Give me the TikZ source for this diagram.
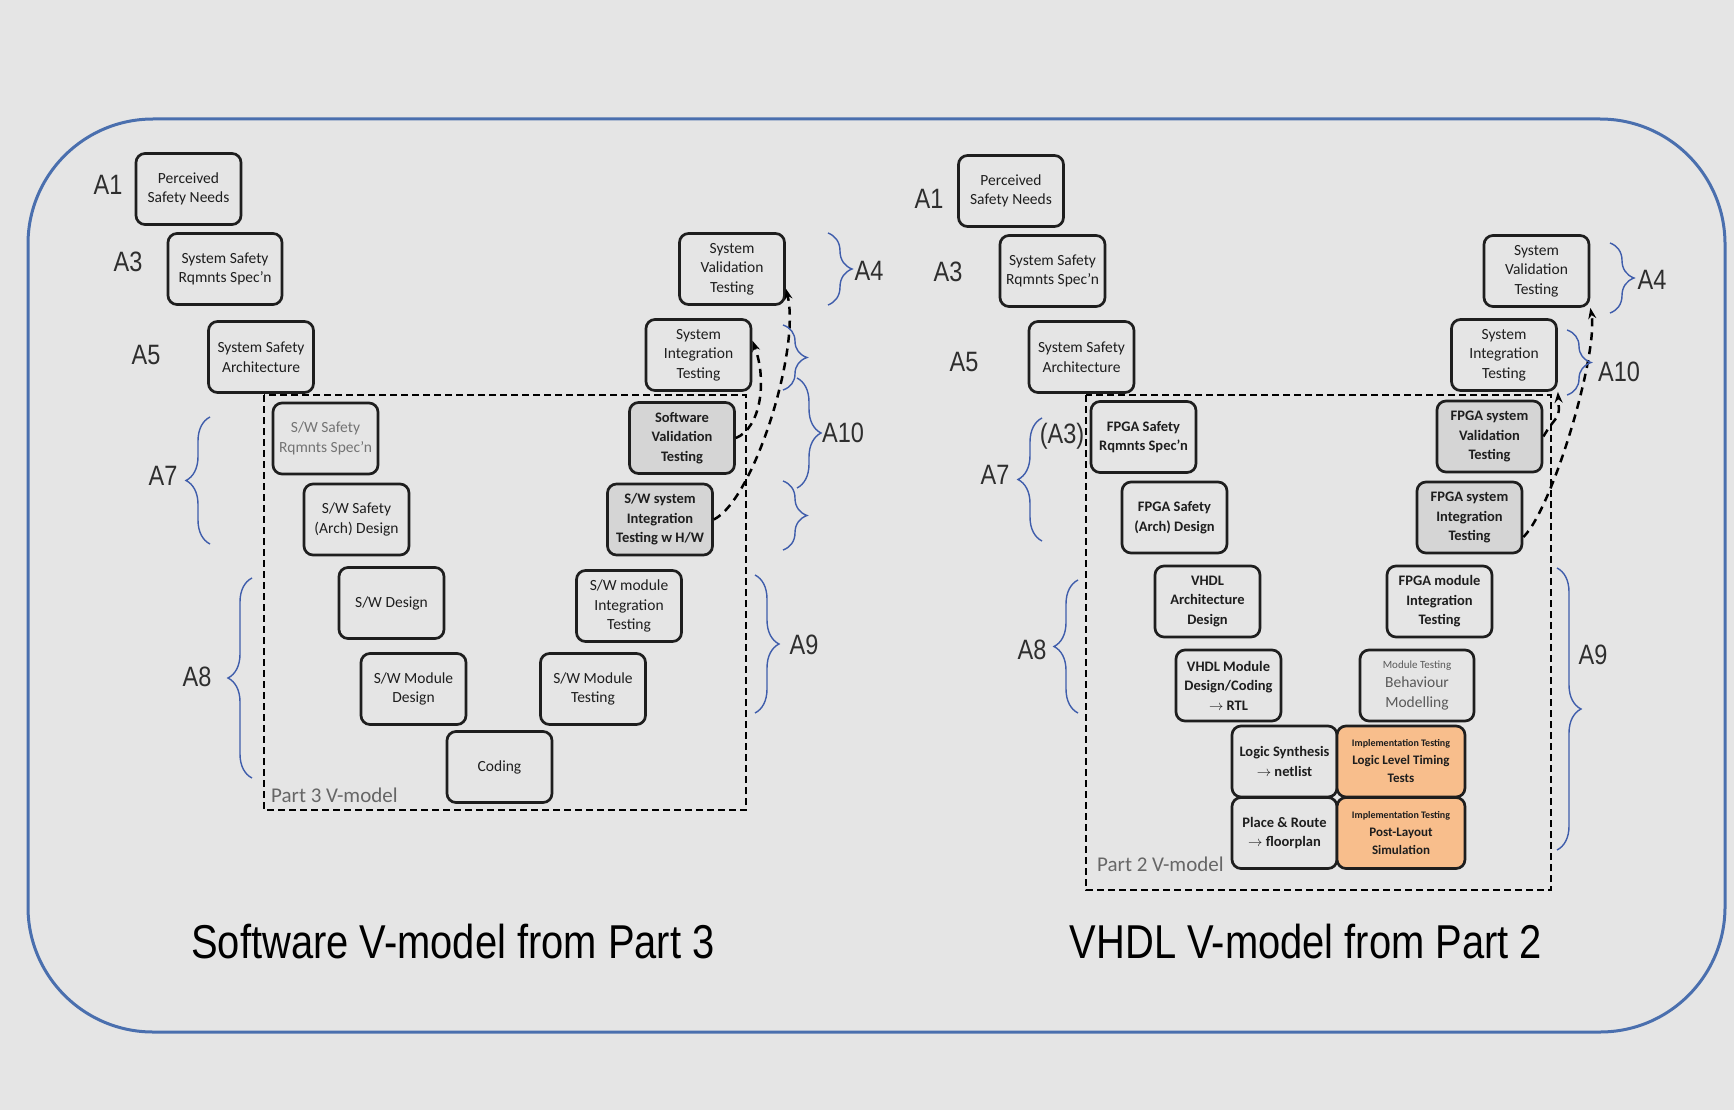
\documentclass[tikz,border=0pt]{standalone}
\usepackage{fontspec}
\setmainfont{Carlito}
\newfontfamily\arialn[FakeStretch=0.84]{Liberation Sans}
\usetikzlibrary{positioning,arrows.meta,decorations.pathreplacing}

\definecolor{bgc}{HTML}{E5E5E5}
\definecolor{framec}{HTML}{4A6FAE}
\definecolor{bracec}{HTML}{3F5DAB}
\definecolor{boxc}{HTML}{1E1E1E}
\definecolor{shadec}{HTML}{D5D5D5}
\definecolor{orangec}{HTML}{F8BE8C}
\definecolor{lblc}{HTML}{2E2E2E}

\begin{document}
\begin{tikzpicture}[x=1pt, y=-1pt,
    stage/.style={draw=boxc, line width=2.7pt, rounded corners=9pt, fill=bgc, minimum width=105pt, minimum height=71pt, inner sep=2pt, align=center, font=\fontsize{15.5}{19.5}\selectfont, text=boxc},
    boldstage/.style={stage, font=\fontsize{14.5}{19.5}\selectfont\bfseries},
    shaded/.style={boldstage, fill=shadec},
    impl/.style={stage, fill=orangec, minimum width=128pt, font=\fontsize{13}{18}\selectfont\bfseries},
    albl/.style={font=\arialn\fontsize{28}{30}\selectfont, text=lblc, inner sep=0pt},
    brc/.style={draw=bracec, line width=1.4pt, decorate, decoration={brace, amplitude=24pt}},
    vframe/.style={draw=black, line width=2.5pt, dash pattern=on 7pt off 4pt},
    link/.style={draw=black, line width=2.5pt, dash pattern=on 8pt off 6pt, -{Stealth[length=11pt, width=8pt]}},
    tag/.style={font=\fontsize{21}{22}\selectfont, text=black!60, anchor=base west, inner sep=0pt},
    ttl/.style={font=\arialn\fontsize{47.5}{50}\selectfont, text=black}
  ]

  % Background and frame
  \fill[bgc] (0,0) rectangle (1734,1110);
  \useasboundingbox (0,0) rectangle (1734,1110);
  \draw[framec, line width=3pt, rounded corners=125pt] (28,119) rectangle (1725,1032);

  % Dashed V-model frames
  \draw[vframe] (264,395) rectangle (746,810);
  \draw[vframe] (1086,395) rectangle (1551,890);

  % Software V-model (Part 3)
  \node[stage] (p3need) at (188.5,189) {Perceived\\Safety Needs};
  \node[stage, minimum width=114pt] (p3sreq) at (225,269) {System Safety\\Rqmnts Spec'n};
  \node[stage] (p3sarch) at (261,357) {System Safety\\Architecture};
  \node[stage, text=black!55] (p3swreq) at (325.5,438.5) {S/W Safety\\Rqmnts Spec'n};
  \node[stage] (p3swarch) at (356.5,519.5) {S/W Safety\\(Arch) Design};
  \node[stage] (p3swdes) at (391.5,603) {S/W Design};
  \node[stage] (p3swmod) at (413.5,689) {S/W Module\\Design};
  \node[stage] (p3code) at (499.5,767) {Coding};
  \node[stage] (p3swmodt) at (593,689) {S/W Module\\Testing};
  \node[stage] (p3swint) at (629,606) {S/W module\\Integration\\Testing};
  \node[shaded] (p3swsys) at (660,519.5) {S/W system\\Integration\\Testing w H/W};
  \node[shaded] (p3swval) at (682,438) {Software\\Validation\\Testing};
  \node[stage] (p3sysint) at (698.5,355) {System\\Integration\\Testing};
  \node[stage] (p3sysval) at (732,269) {System\\Validation\\Testing};
  \node[tag] (p3tag) at (271,802) {Part 3 V-model};

  % VHDL V-model (Part 2)
  \node[stage] (p2need) at (1011,191) {Perceived\\Safety Needs};
  \node[stage] (p2sreq) at (1052.5,271) {System Safety\\Rqmnts Spec'n};
  \node[stage] (p2sarch) at (1081.5,357) {System Safety\\Architecture};
  \node[boldstage] (p2fpreq) at (1143.5,437) {FPGA Safety\\Rqmnts Spec'n};
  \node[boldstage] (p2fparch) at (1174.5,517.5) {FPGA Safety\\(Arch) Design};
  \node[boldstage] (p2vharch) at (1207.5,601.5) {VHDL\\Architecture\\Design};
  \node[boldstage] (p2vhmod) at (1228.5,685.5) {VHDL Module\\Design/Coding\\$\rightarrow$ RTL};
  \node[boldstage] (p2syn) at (1284.5,761.5) {Logic Synthesis\\$\rightarrow$ netlist};
  \node[boldstage] (p2pnr) at (1284.5,833) {Place \& Route\\$\rightarrow$ floorplan};
  \node[impl] (p2imp1) at (1401,761.5) {{\fontsize{10}{14}\selectfont Implementation Testing}\\Logic Level Timing\\Tests};
  \node[impl] (p2imp2) at (1401,833) {{\fontsize{10}{14}\selectfont Implementation Testing}\\Post-Layout\\Simulation};
  \node[stage, minimum width=114pt, text=black!65] (p2modt) at (1417,685.5) {{\fontsize{11}{15}\selectfont Module Testing}\\Behaviour\\Modelling};
  \node[boldstage] (p2fpint) at (1439.5,601.5) {FPGA module\\Integration\\Testing};
  \node[shaded] (p2fpsys) at (1469.5,517.5) {FPGA system\\Integration\\Testing};
  \node[shaded] (p2fpval) at (1489.5,436.5) {FPGA system\\Validation\\Testing};
  \node[stage] (p2sysint) at (1504,355) {System\\Integration\\Testing};
  \node[stage] (p2sysval) at (1536.5,271) {System\\Validation\\Testing};
  \node[tag] (p2tag) at (1097,871) {Part 2 V-model};

  % Dashed links
  \draw[link] (p3swsys.east) .. controls +(40,-20) and +(15,60) .. (p3sysval.-20);
  \draw[link] (p3swval.east) .. controls +(25,-10) and +(15,40) .. (p3sysint.15);
  \draw[link] (p2fpsys.-20) .. controls +(30,-30) and +(8,45) .. (p2sysval.south east);
  \draw[link] (p2fpval.east) .. controls +(15,-25) and +(2,30) .. (p2sysint.south east);

  % Braces
  \draw[brc] (210,544) -- (210,417);
  \draw[brc] (252,778) -- (252,578);
  \draw[brc] (828,233) -- (828,305);
  \draw[brc] (783,325) -- (783,390);
  \draw[brc] (797,378) -- (797,488);
  \draw[brc] (783,481) -- (783,550);
  \draw[brc] (755,575) -- (755,713);
  \draw[brc] (1042,541) -- (1042,418);
  \draw[brc] (1078,713) -- (1078,580);
  \draw[brc] (1610,243) -- (1610,313);
  \draw[brc] (1567,330) -- (1567,395);
  \draw[brc] (1557,568) -- (1557,850);

  % Activity labels
  \node[albl] (p3a1) at (108,185) {A1};
  \node[albl] (p3a3) at (128,262) {A3};
  \node[albl] (p3a5) at (146,355) {A5};
  \node[albl] (p3a7) at (163,476) {A7};
  \node[albl] (p3a8) at (197,677) {A8};
  \node[albl] (p3a4) at (869,271) {A4};
  \node[albl] (p3a10) at (843,433) {A10};
  \node[albl] (p3a9) at (804,645) {A9};
  \node[albl] (p2a1) at (929,199) {A1};
  \node[albl] (p2a3) at (948,272) {A3};
  \node[albl] (p2a5) at (964,362) {A5};
  \node[albl] (p2a7) at (995,475) {A7};
  \node[albl] (p2a3b) at (1062,436) {(A3)};
  \node[albl] (p2a8) at (1032,650) {A8};
  \node[albl] (p2a4) at (1652,280) {A4};
  \node[albl] (p2a10) at (1619,372) {A10};
  \node[albl] (p2a9) at (1593,655) {A9};

  % Titles
  \node[ttl] (p3title) at (453,942) {Software V-model from Part 3};
  \node[ttl] (p2title) at (1306,942) {VHDL V-model from Part 2};

\end{tikzpicture}
\end{document}
